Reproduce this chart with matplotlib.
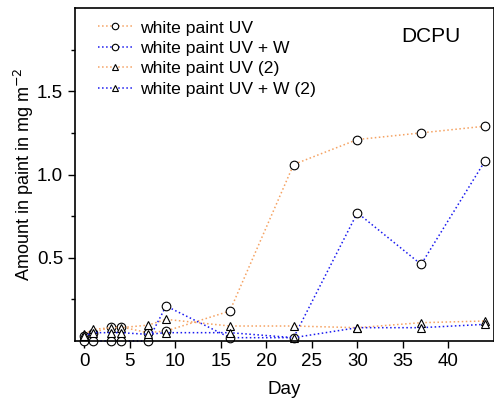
import matplotlib
matplotlib.use('Agg')
from matplotlib import pyplot as plt

plt.rcParams['font.family'] = ['Liberation Sans', 'DejaVu Sans']

dias = [0, 1, 3, 4, 7, 9, 16, 23, 30, 37, 44]
uv = [0.03, 0.05, 0.085, 0.085, 0.05, 0.06, 0.18, 1.06, 1.21, 1.25, 1.29]
uv_w = [0.0, 0.0, 0.0, 0.0, 0.0, 0.21, 0.02, 0.02, 0.77, 0.46, 1.08]
uv_2 = [0.04, 0.07, 0.08, 0.08, 0.095, 0.13, 0.09, 0.09, 0.08, 0.11, 0.12]
uv_w_2 = [0.03, 0.05, 0.05, 0.05, 0.04, 0.05, 0.05, 0.02, 0.08, 0.08, 0.10]

naranja = '#F5A262'
azul = '#1A1AF0'

fig = plt.figure(figsize=(4.94, 4.01), dpi=100)
ax = fig.add_axes([75 / 494, 1 - 341 / 401, 1 - 75 / 494, (341 - 8) / 401])

series = [
  (uv, naranja, 'o', 'white paint UV'),
  (uv_w, azul, 'o', 'white paint UV + W'),
  (uv_2, naranja, '^', 'white paint UV (2)'),
  (uv_w_2, azul, '^', 'white paint UV + W (2)'),
]
for (valores, color, marcador, nombre) in series:
  ax.plot(dias, valores, linestyle=':', color=color, linewidth=1.1,
          marker=marcador, markersize=6.2, markerfacecolor='white',
          markeredgecolor='black', markeredgewidth=0.8, label=nombre, clip_on=False)

ax.set_xlim(-1, 45)
ax.set_ylim(0, 2.0)
ax.set_xticks([0, 5, 10, 15, 20, 25, 30, 35, 40])
ax.set_yticks([0.5, 1.0, 1.5])
ax.set_yticklabels(['0.5', '1.0', '1.5'])
ax.set_yticks([0.25, 0.75, 1.25, 1.75], minor=True)
ax.tick_params(axis='both', labelsize=13.5, direction='out', length=5, width=1)
ax.tick_params(axis='y', which='minor', length=3, width=1)
for lado in ax.spines.values():
  lado.set_linewidth(1.2)

ax.set_xlabel('Day', fontsize=13.5, labelpad=8)
ax.set_ylabel('Amount in paint in mg m$^{-2}$', fontsize=13, labelpad=1)

ax.text(0.85, 0.915, 'DCPU', transform=ax.transAxes, fontsize=15, ha='center', va='center')

ax.legend(loc='upper left', frameon=False, fontsize=12.6, handlelength=2.0,
          handletextpad=0.4, labelspacing=0.3, borderaxespad=0.3,
          markerscale=0.75, bbox_to_anchor=(0.025, 1.0))

plt.savefig('out.png', dpi=100)
